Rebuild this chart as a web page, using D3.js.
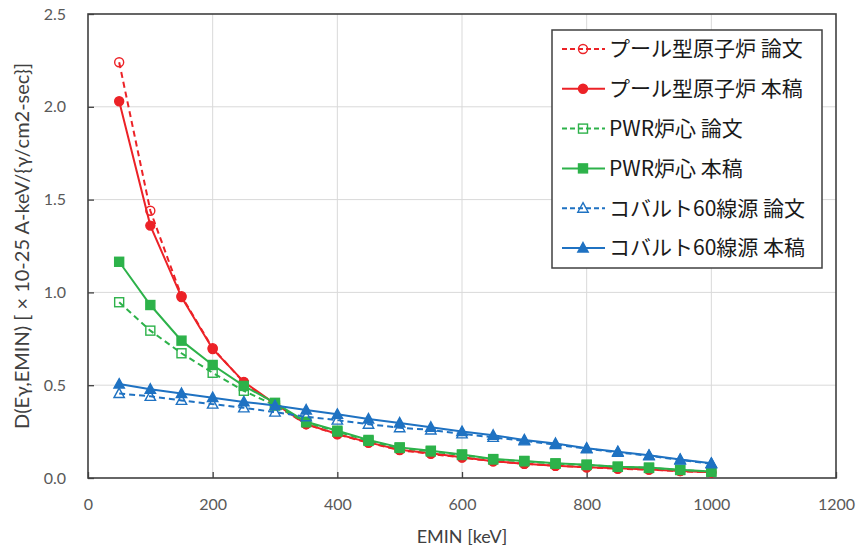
<!DOCTYPE html>
<html>
<head>
<meta charset="utf-8">
<script src="https://cdn.jsdelivr.net/npm/d3@7"></script>
<style>
  body { margin: 0; background: #fff; }
  svg { display: block; }
  text { font-family: Lato, "Noto Sans CJK JP", sans-serif; }
</style>
</head>
<body>
<svg width="858" height="550"></svg>
<script>
// EMIN steps (keV)
const emin = [50, 100, 150, 200, 250, 300, 350, 400, 450, 500,
    550, 600, 650, 700, 750, 800, 850, 900, 950, 1000];

// D(Eγ,EMIN) per source, published values vs. this work
const poolPaper = [2.24, 1.44, 0.98, 0.70, 0.515, 0.395, 0.29, 0.235, 0.19, 0.15,
    0.13, 0.11, 0.09, 0.077, 0.066, 0.058, 0.05, 0.045, 0.037, 0.03];
const poolThis = [2.03, 1.36, 0.975, 0.695, 0.518, 0.40, 0.29, 0.237, 0.192, 0.152,
    0.133, 0.112, 0.09, 0.077, 0.066, 0.058, 0.052, 0.046, 0.038, 0.031];
const pwrPaper = [0.947, 0.794, 0.672, 0.567, 0.47, 0.39, 0.30, 0.25, 0.20, 0.162,
    0.143, 0.124, 0.10, 0.09, 0.077, 0.07, 0.06, 0.054, 0.043, 0.034];
const pwrThis = [1.165, 0.932, 0.74, 0.609, 0.496, 0.405, 0.303, 0.255, 0.205, 0.165,
    0.147, 0.127, 0.102, 0.092, 0.079, 0.072, 0.061, 0.056, 0.044, 0.035];
const coPaper = [0.455, 0.44, 0.418, 0.398, 0.378, 0.355, 0.33, 0.312, 0.29, 0.271,
    0.259, 0.238, 0.219, 0.20, 0.18, 0.158, 0.138, 0.12, 0.097, 0.077];
const coThis = [0.506, 0.478, 0.455, 0.433, 0.41, 0.39, 0.366, 0.343, 0.318, 0.296,
    0.273, 0.25, 0.23, 0.205, 0.186, 0.16, 0.142, 0.122, 0.10, 0.079];

const seriesNames = ["プール型原子炉 論文", "プール型原子炉 本稿", "PWR炉心 論文",
    "PWR炉心 本稿", "コバルト60線源 論文", "コバルト60線源 本稿"];

const xTicks = [0, 200, 400, 600, 800, 1000, 1200];
const yTicks = [0.0, 0.5, 1.0, 1.5, 2.0, 2.5];

const xTitle = "EMIN [keV]";
const yTitle = "D(Eγ,EMIN) [ × 10-25 A-keV/{γ/cm2-sec}]";

const red = "#ec2227", green = "#2db24a", blue = "#1f72c2";

const series = [
    {name: seriesNames[0], values: poolPaper, color: red, dashed: true, shape: "circle"},
    {name: seriesNames[1], values: poolThis, color: red, dashed: false, shape: "circle"},
    {name: seriesNames[2], values: pwrPaper, color: green, dashed: true, shape: "square"},
    {name: seriesNames[3], values: pwrThis, color: green, dashed: false, shape: "square"},
    {name: seriesNames[4], values: coPaper, color: blue, dashed: true, shape: "triangle"},
    {name: seriesNames[5], values: coThis, color: blue, dashed: false, shape: "triangle"}
];

const svg = d3.select("svg"),
    plot = {left: 88, right: 836, top: 14, bottom: 478};

const x = d3.scaleLinear().domain([0, 1200]).range([plot.left, plot.right]);
const y = d3.scaleLinear().domain([0, 2.5]).range([plot.bottom, plot.top]);

//grid
const grid = svg.append("g").attr("stroke", "#d9d9d9").attr("stroke-width", 1);
grid.selectAll(".gx").data(xTicks.slice(1, -1)).enter().append("line")
    .attr("x1", d => x(d)).attr("x2", d => x(d))
    .attr("y1", plot.top).attr("y2", plot.bottom);
grid.selectAll(".gy").data(yTicks.slice(1, -1)).enter().append("line")
    .attr("x1", plot.left).attr("x2", plot.right)
    .attr("y1", d => y(d)).attr("y2", d => y(d));

//axes with inward ticks
const xAxis = svg.append("g")
    .attr("transform", `translate(0,${plot.bottom})`)
    .call(d3.axisBottom(x).tickValues(xTicks).tickSize(-6).tickPadding(21).tickFormat(d3.format("d")));
const yAxis = svg.append("g")
    .attr("transform", `translate(${plot.left},0)`)
    .call(d3.axisLeft(y).tickValues(yTicks).tickSize(-6).tickPadding(22).tickFormat(d3.format(".1f")));

[xAxis, yAxis].forEach(a => {
    a.select(".domain").remove();
    a.selectAll(".tick line").attr("stroke", "#404040").attr("stroke-width", 1.3);
    a.selectAll(".tick text").attr("fill", "#595959").style("font-size", "16px");
});

//frame
svg.append("rect")
    .attr("x", plot.left).attr("y", plot.top)
    .attr("width", plot.right - plot.left).attr("height", plot.bottom - plot.top)
    .attr("fill", "none").attr("stroke", "#404040").attr("stroke-width", 1.6);

svg.append("text")
    .attr("x", (plot.left + plot.right) / 2).attr("y", 543)
    .attr("text-anchor", "middle").attr("fill", "#404040")
    .style("font-size", "18px")
    .text(xTitle);

svg.append("text")
    .attr("transform", `translate(29,${(plot.top + plot.bottom) / 2}) rotate(-90)`)
    .attr("text-anchor", "middle").attr("fill", "#404040")
    .style("font-size", "20px")
    .text(yTitle);

function drawMarker(g, shape, color, filled) {
    const fill = filled ? color : "none";
    if (shape === "circle") {
        g.append("circle").attr("r", 4.5)
            .attr("fill", fill).attr("stroke", color).attr("stroke-width", 1.4);
    } else if (shape === "square") {
        g.append("rect").attr("x", -4.5).attr("y", -4.5).attr("width", 9).attr("height", 9)
            .attr("fill", fill).attr("stroke", color).attr("stroke-width", 1.4);
    } else {
        g.append("path").attr("d", "M0,-5.5L5.2,4L-5.2,4Z")
            .attr("fill", fill).attr("stroke", color).attr("stroke-width", 1.4);
    }
}

const line = d3.line()
    .x((d, i) => x(emin[i]))
    .y(d => y(d));

//series
series.forEach(s => {
    const g = svg.append("g");
    g.append("path")
        .attr("d", line(s.values))
        .attr("fill", "none")
        .attr("stroke", s.color)
        .attr("stroke-width", 2)
        .attr("stroke-dasharray", s.dashed ? "6,4" : null);
    g.selectAll(".pt").data(s.values).enter().append("g")
        .attr("transform", (d, i) => `translate(${x(emin[i])},${y(d)})`)
        .each(function () { drawMarker(d3.select(this), s.shape, s.color, !s.dashed); });
});

//legend
const legend = svg.append("g").attr("transform", "translate(552,30)");
legend.append("rect")
    .attr("width", 270).attr("height", 238)
    .attr("fill", "#fff").attr("stroke", "#404040").attr("stroke-width", 1.5);

series.forEach((s, i) => {
    const row = legend.append("g").attr("transform", `translate(0,${19 + i * 39.8})`);
    row.append("line")
        .attr("x1", 10).attr("x2", 53)
        .attr("stroke", s.color).attr("stroke-width", 2)
        .attr("stroke-dasharray", s.dashed ? "5,3" : null);
    drawMarker(row.append("g").attr("transform", "translate(31,0)"), s.shape, s.color, !s.dashed);
    row.append("text")
        .attr("x", 57).attr("dy", "0.35em")
        .attr("fill", "#1a1a1a")
        .style("font-size", "21px")
        .style("font-family", "'Noto Sans CJK JP', sans-serif")
        .text(s.name);
});
</script>
</body>
</html>
